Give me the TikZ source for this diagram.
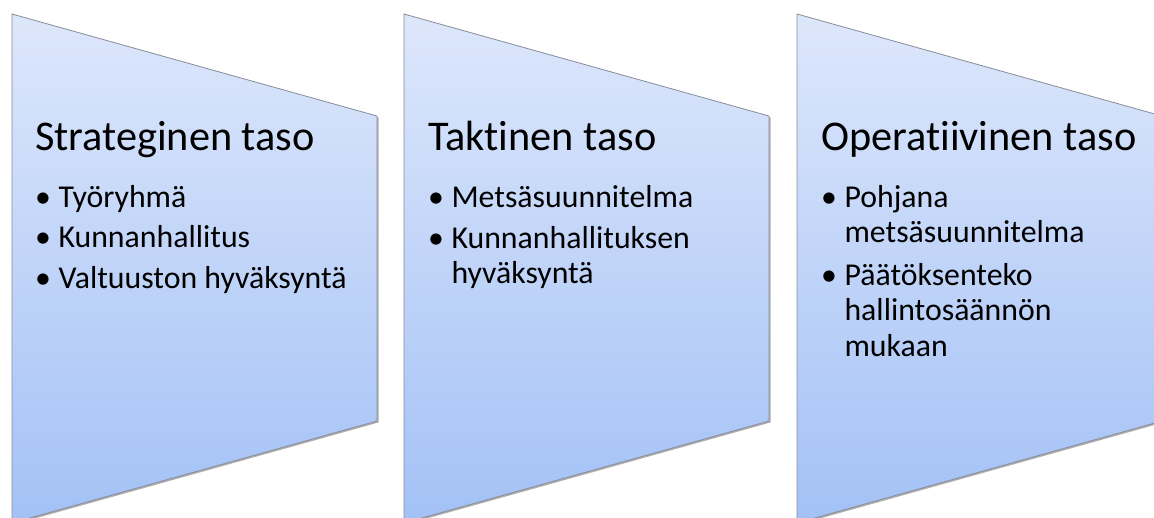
\documentclass[tikz,border=0pt]{standalone}
\usepackage{fontspec}
\setmainfont{Carlito}[Ligatures=NoCommon]
\usetikzlibrary{positioning,shadows}

\definecolor{levelTop}{RGB}{221,231,251}
\definecolor{levelBot}{RGB}{163,193,246}
\definecolor{levelEdge}{RGB}{135,140,152}

\begin{document}
\begin{tikzpicture}[x=1pt, y=-1pt,
	level/.style={draw=levelEdge, line width=0.8pt, top color=levelTop, bottom color=levelBot,
		drop shadow={shadow xshift=1.5pt, shadow yshift=-1.5pt, opacity=0.45, fill=black!70}},
	heading/.style={anchor=base west, inner sep=0pt, font=\fontsize{42.3}{48}\selectfont},
	items/.style={anchor=base west, inner sep=0pt, font=\fontsize{31.8}{35.5}\selectfont}]
	\useasboundingbox (0,0) rectangle (1154,517);
	\clip (0,0) rectangle (1154,517);

	% Shapes {strategic, tactical, operative}
	\path [level] (12,14)  -- (377,116)  -- (377,421)  -- (12,523)  -- cycle;
	\path [level] (404,14) -- (769,116)  -- (769,421)  -- (404,523) -- cycle;
	\path [level] (797,14) -- (1162,116) -- (1162,421) -- (797,523) -- cycle;

	% Headings
	\node [heading] (s-title) at (35,150)  {Strateginen taso};
	\node [heading] (t-title) at (428,150) {Taktinen taso};
	\node [heading] (o-title) at (821,150) {Operatiivinen taso};

	% Bullet lists
	\node [items, below=57pt of s-title.base west, anchor=base west] (s-items)
	{\begin{tabular}[t]{@{}l@{\hspace{7.5pt}}l@{}}
		\textbullet & Työryhmä\\[5pt]
		\textbullet & Kunnanhallitus\\[5pt]
		\textbullet & Valtuuston hyväksyntä
	\end{tabular}};

	\node [items, below=57pt of t-title.base west, anchor=base west] (t-items)
	{\begin{tabular}[t]{@{}l@{\hspace{7.5pt}}l@{}}
		\textbullet & Metsäsuunnitelma\\[5.5pt]
		\textbullet & Kunnanhallituksen\\
		            & hyväksyntä
	\end{tabular}};

	\node [items, below=57pt of o-title.base west, anchor=base west] (o-items)
	{\begin{tabular}[t]{@{}l@{\hspace{7.5pt}}l@{}}
		\textbullet & Pohjana\\
		            & metsäsuunnitelma\\[7pt]
		\textbullet & Päätöksenteko\\
		            & hallintosäännön\\
		            & mukaan
	\end{tabular}};

\end{tikzpicture}
\end{document}
